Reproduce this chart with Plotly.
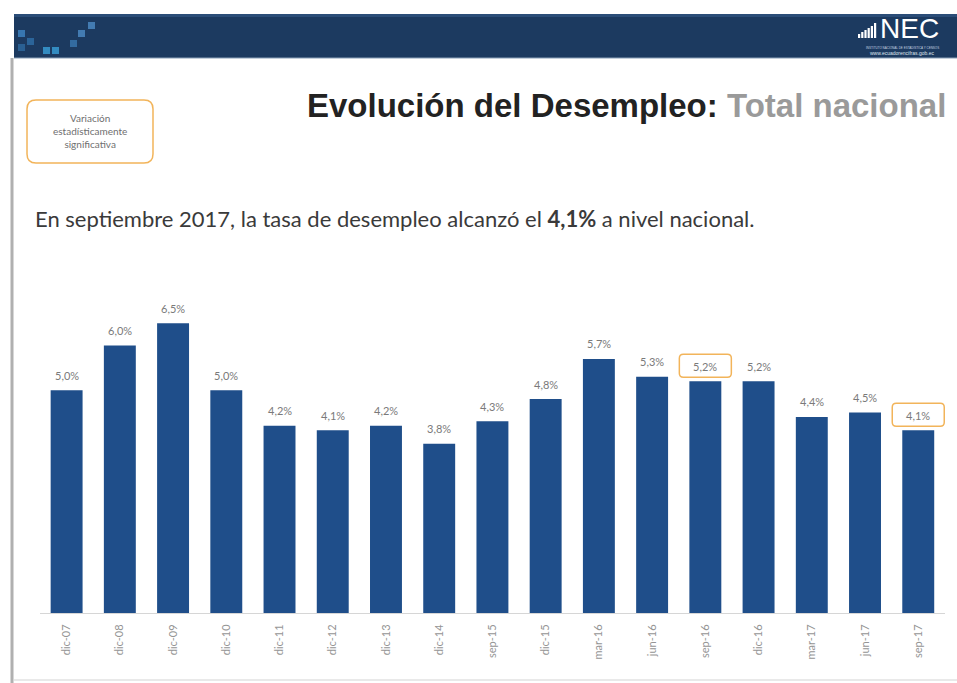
import plotly.graph_objects as go

# Quarterly national unemployment rate (%)
periods = ["dic-07", "dic-08", "dic-09", "dic-10", "dic-11", "dic-12", "dic-13",
           "dic-14", "sep-15", "dic-15", "mar-16", "jun-16", "sep-16", "dic-16",
           "mar-17", "jun-17", "sep-17"]
unemployment = [5.0, 6.0, 6.5, 5.0, 4.2, 4.1, 4.2, 3.8, 4.3, 4.8, 5.7, 5.3, 5.2,
                5.2, 4.4, 4.5, 4.1]
# periods whose change is statistically significant
significant = ["sep-16", "sep-17"]

W, H = 957, 683
ML, MR, MT, MB = 40, 12, 301, 70
PW, PH = W - ML - MR, H - MT - MB

BAR = "#1f4e8a"
HEADER = "#1c3a60"
ORANGE = "#f2b45a"


def fx(p):
    return (p - ML) / PW


def fy(p):
    return (H - MB - p) / PH


def rounded_rect(x0, y0, x1, y1, r):
    # rounded rectangle in paper coordinates from pixel corners
    def P(x, y):
        return f"{fx(x):.5f},{fy(y):.5f}"
    return (f"M {P(x0 + r, y0)} L {P(x1 - r, y0)} Q {P(x1, y0)} {P(x1, y0 + r)} "
            f"L {P(x1, y1 - r)} Q {P(x1, y1)} {P(x1 - r, y1)} "
            f"L {P(x0 + r, y1)} Q {P(x0, y1)} {P(x0, y1 - r)} "
            f"L {P(x0, y0 + r)} Q {P(x0, y0)} {P(x0 + r, y0)} Z")


fig = go.Figure(go.Bar(x=periods, y=unemployment, marker_color=BAR,
                       marker_line_width=0, hoverinfo="x+y"))

shapes = []
annotations = []

# header band
shapes.append(dict(type="rect", xref="paper", yref="paper", layer="below",
                   x0=fx(14), x1=fx(W), y0=fy(14), y1=fy(58),
                   fillcolor=HEADER, line_width=0))
shapes.append(dict(type="rect", xref="paper", yref="paper", layer="below",
                   x0=fx(14), x1=fx(W), y0=fy(14), y1=fy(17),
                   fillcolor="#2b4d78", line_width=0))
shapes.append(dict(type="line", xref="paper", yref="paper",
                   x0=fx(14), x1=fx(W), y0=fy(58), y1=fy(58),
                   line=dict(color="#8aa0b8", width=1)))
# decorative squares on the left of the header
for (sx, sy, c) in [(18, 30, "#3f86c4"), (27, 38, "#2f6fa8"), (43, 47, "#3aa0d8"),
                    (52, 47, "#3aa0d8"), (78, 30, "#4d8cc6"), (88, 22, "#4d8cc6"),
                    (70, 40, "#3a78b0"), (18, 44, "#2e6aa0")]:
    shapes.append(dict(type="rect", xref="paper", yref="paper", layer="below",
                       x0=fx(sx), x1=fx(sx + 7), y0=fy(sy), y1=fy(sy + 7),
                       fillcolor=c, line_width=0, opacity=0.8))
# logo bars
for i, h in enumerate([4, 6, 8, 10, 12, 15]):
    bx = 858 + i * 3.2
    shapes.append(dict(type="rect", xref="paper", yref="paper",
                       x0=fx(bx), x1=fx(bx + 2.2), y0=fy(38), y1=fy(38 - h),
                       fillcolor="white", line_width=0))
annotations.append(dict(xref="paper", yref="paper", x=fx(878), y=fy(28),
                        xanchor="left", yanchor="middle", showarrow=False,
                        text="NEC", font=dict(family="Liberation Sans Narrow, Arial Narrow, sans-serif",
                                              size=28, color="white")))
annotations.append(dict(xref="paper", yref="paper", x=fx(902), y=fy(47.5),
                        xanchor="center", yanchor="middle", showarrow=False,
                        text="INSTITUTO NACIONAL DE ESTADÍSTICA Y CENSOS",
                        font=dict(family="Liberation Sans", size=3, color="#c8d4e0")))
annotations.append(dict(xref="paper", yref="paper", x=fx(902), y=fy(53.5),
                        xanchor="center", yanchor="middle", showarrow=False,
                        text="www.ecuadorencifras.gob.ec",
                        font=dict(family="Liberation Sans", size=5, color="#dfe6ee")))

# page borders
shapes.append(dict(type="line", xref="paper", yref="paper",
                   x0=fx(12), x1=fx(12), y0=fy(58), y1=fy(H),
                   line=dict(color="#b0b0b0", width=3)))
shapes.append(dict(type="line", xref="paper", yref="paper",
                   x0=fx(14), x1=fx(W), y0=fy(680), y1=fy(680),
                   line=dict(color="#e2e2e2", width=1.5)))

# legend box
shapes.append(dict(type="path", xref="paper", yref="paper",
                   path=rounded_rect(27, 100, 153, 163, 9),
                   line=dict(color=ORANGE, width=1.5), fillcolor="white"))
annotations.append(dict(xref="paper", yref="paper", x=fx(90), y=fy(131),
                        xanchor="center", yanchor="middle", showarrow=False,
                        text="Variación<br>estadísticamente<br>significativa",
                        font=dict(family="Lato, sans-serif", size=10, color="#6f6f6f")))

# title and subtitle
annotations.append(dict(xref="paper", yref="paper", x=fx(948), y=fy(105),
                        xanchor="right", yanchor="middle", showarrow=False,
                        text="<b>Evolución del Desempleo:</b> "
                             "<b><span style='color:#9a9a9a'>Total nacional</span></b>",
                        font=dict(family="Liberation Sans, Arial, sans-serif",
                                  size=33, color="#222222")))
annotations.append(dict(xref="paper", yref="paper", x=fx(33), y=fy(218),
                        xanchor="left", yanchor="middle", showarrow=False,
                        text="En septiembre 2017, la tasa de desempleo alcanzó el "
                             "<b>4,1%</b> a nivel nacional.",
                        font=dict(family="Lato, sans-serif", size=22, color="#3a3a3a")))

# value labels and significance boxes
for p, v in zip(periods, unemployment):
    annotations.append(dict(x=p, y=v, xref="x", yref="y", showarrow=False,
                            yanchor="middle", yshift=15,
                            text=f"{v:.1f}%".replace(".", ","),
                            font=dict(family="Lato, sans-serif", size=11, color="#7a7a7a")))
    if p in significant:
        r = 4
        x0, x1, y0, y1 = -26, 26, 4, 27
        path = (f"M {x0 + r},{y0} L {x1 - r},{y0} Q {x1},{y0} {x1},{y0 + r} "
                f"L {x1},{y1 - r} Q {x1},{y1} {x1 - r},{y1} L {x0 + r},{y1} "
                f"Q {x0},{y1} {x0},{y1 - r} L {x0},{y0 + r} Q {x0},{y0} {x0 + r},{y0} Z")
        shapes.append(dict(type="path", xref="x", yref="y",
                           xsizemode="pixel", ysizemode="pixel",
                           xanchor=p, yanchor=v, path=path,
                           line=dict(color=ORANGE, width=1.5)))

fig.update_layout(
    width=W, height=H,
    margin=dict(l=ML, r=MR, t=MT, b=MB),
    paper_bgcolor="white", plot_bgcolor="white",
    bargap=0.4, showlegend=False,
    shapes=shapes, annotations=annotations,
    xaxis=dict(type="category", showline=True, linecolor="#d6d6d6", linewidth=1,
               showgrid=False, ticks="", tickangle=-90,
               tickfont=dict(family="Lato, sans-serif", size=11, color="#959595"),
               ticklabelstandoff=6),
    yaxis=dict(range=[0, 7.0], visible=False, showgrid=False),
)

fig.write_html("out.html")
